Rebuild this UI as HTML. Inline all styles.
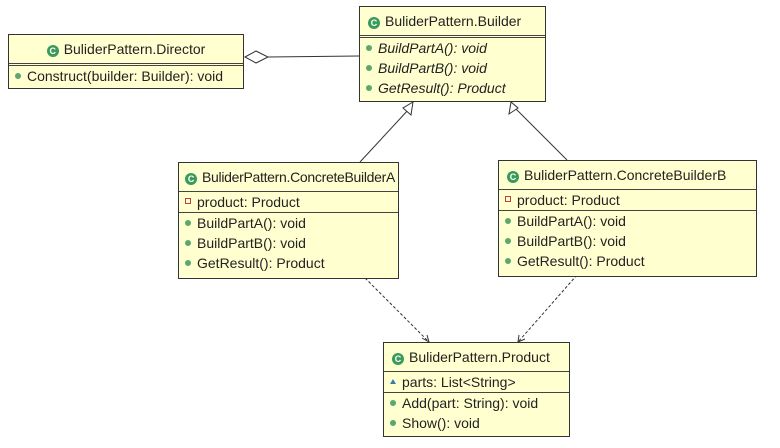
<!DOCTYPE html>
<html><head><meta charset="utf-8"><style>
body{margin:0;width:780px;height:448px;background:#fff;position:relative;overflow:hidden;font-family:"Liberation Sans",sans-serif;font-size:14px;color:#222}
.b{position:absolute;background:#ffffd0;border:1px solid #333;box-sizing:border-box}
.h{height:28px;line-height:28px;padding-left:8px;border-bottom:3px double #444;white-space:nowrap}
.h.c{text-align:center;padding-left:0}
.r{height:20px;line-height:20px;padding-left:6px;white-space:nowrap}
.sep{border-top:1px solid #444}
.g{display:inline-block;width:12px;height:12px;border-radius:50%;background:#3a9a5a;color:#fff;font-size:9px;line-height:12px;text-align:center;font-weight:bold;margin-right:5px;vertical-align:0px}
.d{display:inline-block;width:6px;height:6px;border-radius:50%;background:#5aa86e;margin-right:6px;vertical-align:2px}
.s{display:inline-block;width:4px;height:4px;border:1px solid #c04040;margin-right:6px;vertical-align:3px}
.t{display:inline-block;width:0;height:0;border-left:3px solid transparent;border-right:3px solid transparent;border-bottom:5px solid #3a7ab0;margin-right:6px;vertical-align:3px}
i{font-style:italic}
svg{position:absolute;left:0;top:0}
</style></head><body>
<svg width="780" height="448">
<line x1="268" y1="57" x2="359" y2="56" stroke="#333"/>
<polygon points="245,57 256,51 268,57 256,63" fill="#fff" stroke="#333"/>
<line x1="360" y1="162" x2="409" y2="109" stroke="#333"/>
<polygon points="413,102 403,108 411,115" fill="#fff" stroke="#333"/>
<line x1="567" y1="160" x2="515" y2="108" stroke="#333"/>
<polygon points="511,102 509,114 518,108" fill="#fff" stroke="#333"/>
<line x1="365" y1="278" x2="429" y2="342" stroke="#333" stroke-dasharray="3,2"/>
<polyline points="422,338 429,342 427,335" fill="none" stroke="#333"/>
<line x1="577" y1="275" x2="518" y2="342" stroke="#333" stroke-dasharray="3,2"/>
<polyline points="519,335 518,342 525,339" fill="none" stroke="#333"/>
</svg>
<div class="b" style="left:8px;top:34px;width:236px;height:55px">
<div class="h c"><span class="g">C</span>BuliderPattern.Director</div>
<div class="r"><span class="d"></span>Construct(builder: Builder): void</div></div>
<div class="b" style="left:359px;top:6px;width:187px;height:96px">
<div class="h"><span class="g">C</span>BuliderPattern.Builder</div>
<div class="r"><span class="d"></span><i>BuildPartA(): void</i></div>
<div class="r"><span class="d"></span><i>BuildPartB(): void</i></div>
<div class="r"><span class="d"></span><i>GetResult(): Product</i></div></div>
<div class="b" style="left:178px;top:162px;width:221px;height:117px">
<div class="h" style="border-bottom:1px solid #444;letter-spacing:-0.3px;padding-left:6px">
<span class="g">C</span>BuliderPattern.ConcreteBuilderA</div>
<div class="r"><span class="s"></span>product: Product</div>
<div class="r sep"><span class="d"></span>BuildPartA(): void</div>
<div class="r"><span class="d"></span>BuildPartB(): void</div>
<div class="r"><span class="d"></span>GetResult(): Product</div></div>
<div class="b" style="left:498px;top:160px;width:259px;height:117px">
<div class="h" style="border-bottom:1px solid #444">
<span class="g">C</span>BuliderPattern.ConcreteBuilderB</div>
<div class="r"><span class="s"></span>product: Product</div>
<div class="r sep"><span class="d"></span>BuildPartA(): void</div>
<div class="r"><span class="d"></span>BuildPartB(): void</div>
<div class="r"><span class="d"></span>GetResult(): Product</div></div>
<div class="b" style="left:383px;top:342px;width:187px;height:95px">
<div class="h" style="border-bottom:1px solid #444">
<span class="g">C</span>BuliderPattern.Product</div>
<div class="r"><span class="t"></span>parts: List&lt;String&gt;</div>
<div class="r sep"><span class="d"></span>Add(part: String): void</div>
<div class="r"><span class="d"></span>Show(): void</div></div>
</body></html>
